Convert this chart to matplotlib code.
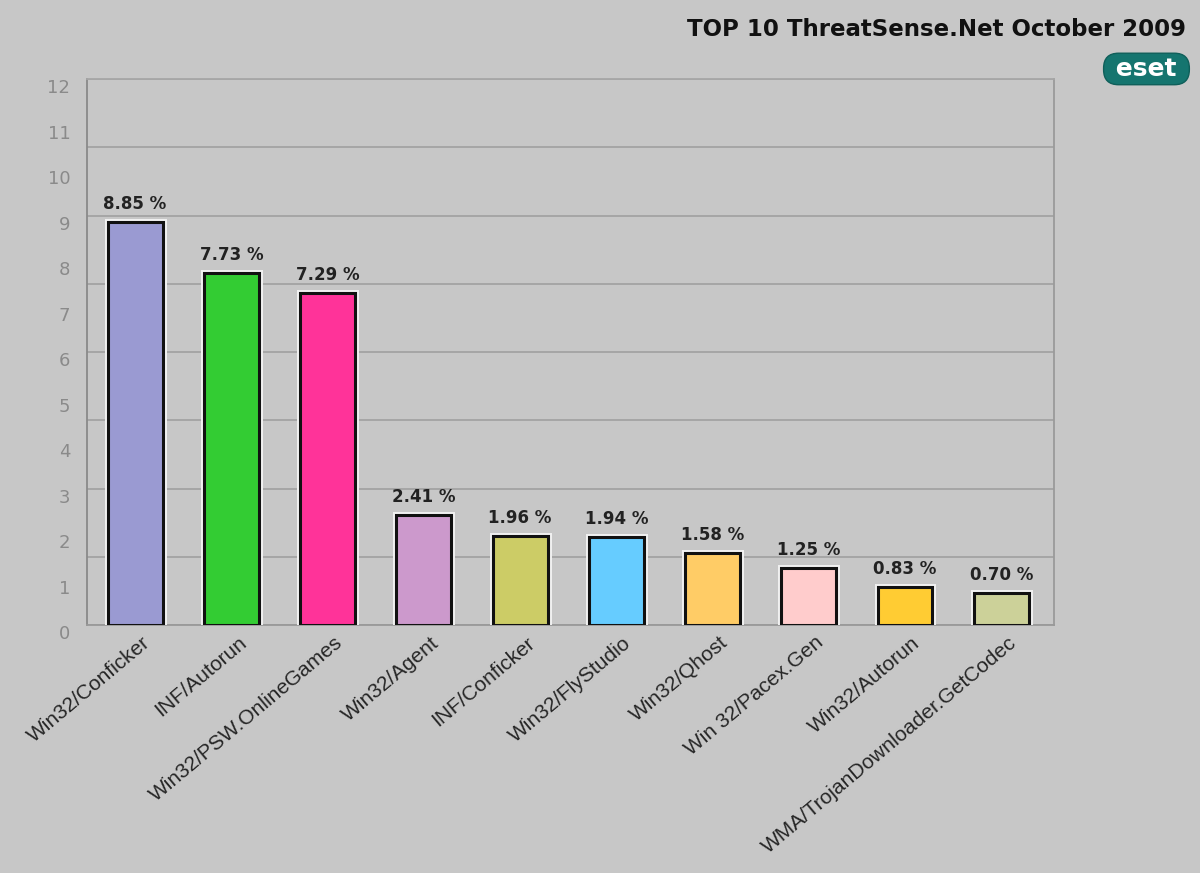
import matplotlib
matplotlib.use("Agg")
import matplotlib.pyplot as plt
import matplotlib.patheffects as pe
from matplotlib.ticker import MultipleLocator
from matplotlib.transforms import ScaledTranslation

# data
threats = [
    "Win32/Conficker",
    "INF/Autorun",
    "Win32/PSW.OnlineGames",
    "Win32/Agent",
    "INF/Conficker",
    "Win32/FlyStudio",
    "Win32/Qhost",
    "Win 32/Pacex.Gen",
    "Win32/Autorun",
    "WMA/TrojanDownloader.GetCodec",
]
shares = [8.85, 7.73, 7.29, 2.41, 1.96, 1.94, 1.58, 1.25, 0.83, 0.70]
bar_colors = [
    "#9a9ad2", "#33cc33", "#ff3399", "#cc99cc", "#cccc66",
    "#66ccff", "#ffcc66", "#ffcccc", "#ffcc33", "#ccd199",
]
y_ticks = list(range(13))

BG = "#c7c7c7"

fig = plt.figure(figsize=(12, 8.73), dpi=100, facecolor=BG)
ax = fig.add_axes([0.0725, 0.284, 0.806, 0.6254])
ax.set_facecolor(BG)

x = list(range(len(threats)))
bars = ax.bar(x, shares, width=0.57, color=bar_colors, edgecolor="#111111",
              linewidth=2.2, zorder=3)
for b in bars:
    b.set_path_effects([pe.Stroke(linewidth=5, foreground="#f2f2f2"), pe.Normal()])

for xi, v in zip(x, shares):
    ax.annotate(f"{v:.2f} %", (xi, v), xytext=(0, 13), textcoords="offset points",
                ha="center", va="center", fontsize=12, fontweight="bold",
                color="#222222", zorder=4)

ax.set_xlim(-0.5, 9.55)
ax.set_ylim(0, 12)

# labels every unit, grid lines every 1.5
ax.set_yticks(y_ticks)
ax.set_yticklabels([str(t) for t in y_ticks], fontsize=13, color="#8a8a8a")
ax.yaxis.set_minor_locator(MultipleLocator(1.5))
ax.yaxis.remove_overlapping_locs = False
ax.grid(True, which="minor", axis="y", color="#a6a6a6", linewidth=1.4, zorder=0)
ax.tick_params(axis="y", which="both", length=0, pad=12)
shift = ScaledTranslation(0, -5 / 72, fig.dpi_scale_trans)
for lab in ax.get_yticklabels():
    lab.set_transform(lab.get_transform() + shift)

ax.set_xticks(x)
ax.set_xticklabels(threats, rotation=40, ha="right", va="center",
                   rotation_mode="anchor", fontsize=15, color="#262626",
                   family="Liberation Sans")
ax.tick_params(axis="x", length=0, pad=11)
xshift = ScaledTranslation(9 / 72, 0, fig.dpi_scale_trans)
for lab in ax.get_xticklabels():
    lab.set_transform(lab.get_transform() + xshift)

ax.spines["left"].set_color("#8a8a8a")
ax.spines["bottom"].set_color("#999999")
ax.spines["right"].set_color("#9a9a9a")
ax.spines["top"].set_color("#a6a6a6")
for s in ax.spines.values():
    s.set_linewidth(1.3)

fig.text(0.988, 0.966, "TOP 10 ThreatSense.Net October 2009", ha="right", va="center",
         fontsize=16.5, fontweight="bold", color="#111111")
fig.text(0.988, 0.921, " eset ", ha="right", va="center", fontsize=18,
         fontweight="bold", color="white",
         bbox=dict(boxstyle="round,pad=0.15,rounding_size=0.6", fc="#15756f",
                   ec="#0f5f5a", lw=1))

fig.savefig("out.png", dpi=100, facecolor=BG)
